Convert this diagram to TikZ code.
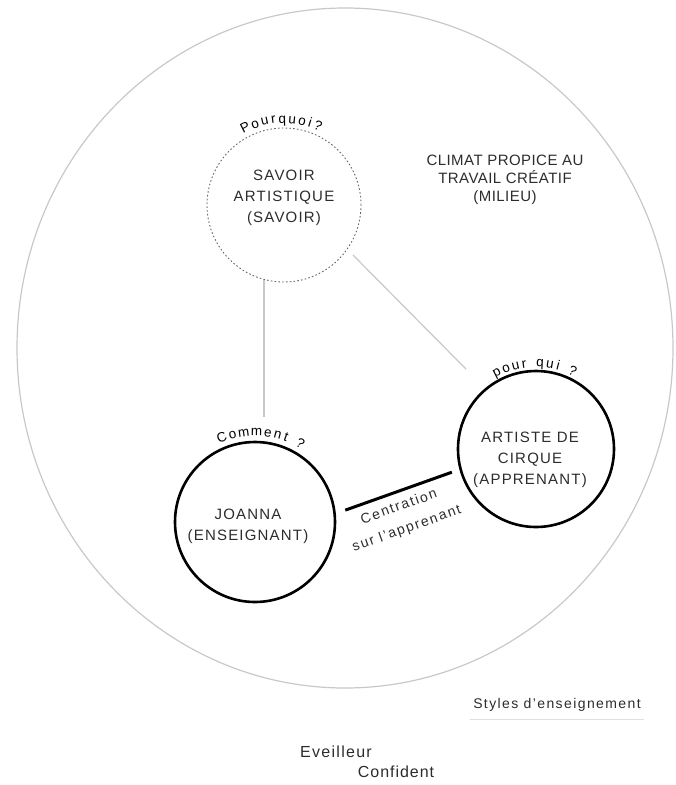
\documentclass[tikz,border=0pt]{standalone}
\usepackage{fontspec}
\setmainfont{Liberation Sans}
\usetikzlibrary{decorations.text}

\begin{document}
\begin{tikzpicture}[x=1pt,y=-1pt]
  \definecolor{myline}{HTML}{C8C8C8}
  \definecolor{myink}{HTML}{2C2C2C}
  \tikzstyle{pole}=[circle, draw=black, line width=2.6pt, minimum size=160pt, inner sep=0pt]
  \tikzstyle{caption}=[align=center, text=myink, font=\fontsize{15}{21}\selectfont\addfontfeature{LetterSpace=8}]
  \tikzstyle{link}=[draw=myline, line width=1.2pt]
  \tikzstyle{question}=[decorate, decoration={text effects along path, text align=center,
    text effects/.cd, text along path, character widths={inner xsep=2pt},
    characters={text=black, font=\fontsize{13.5}{13.5}\selectfont}}]

  \useasboundingbox (0,0) rectangle (676,785);
  \draw[myline, line width=1.2pt] (345,348) ellipse [x radius=328pt, y radius=340pt];

  \node[pole, draw=black!60, line width=0.9pt, dash pattern=on 1.6pt off 2.2pt, minimum size=154pt,
    label={[caption, yshift=7pt]center:{SAVOIR\\ARTISTIQUE\\(SAVOIR)}}](savoir) at (284,205) {};
  \node[pole, label={[caption, xshift=-7pt, yshift=-4pt]center:{JOANNA\\(ENSEIGNANT)}}](joanna) at (255,522) {};
  \node[pole, minimum size=156pt,
    label={[caption, xshift=-6pt, yshift=-11pt]center:{ARTISTE DE\\CIRQUE\\(APPRENANT)}}](artiste) at (536,449) {};

  \node[caption, font=\fontsize{15}{18}\selectfont\addfontfeature{LetterSpace=3}](climat) at (505,180) {CLIMAT PROPICE AU\\TRAVAIL CRÉATIF\\(MILIEU)};

  \path[question, decoration={text={Pourquoi?}}] (savoir.center) ++(150:82pt) arc[start angle=150, end angle=34, radius=82pt];
  \path[question, decoration={text={Comment ?}}] (joanna.center) ++(150:86pt) arc[start angle=150, end angle=22, radius=86pt];
  \path[question, decoration={text={pour qui ?}}] (artiste.center) ++(150:82pt) arc[start angle=150, end angle=32, radius=82pt];

  \draw[link, shorten >=24pt] (savoir.-105) -- (savoir.-105 |- joanna.north);
  \draw[link, shorten <=8pt, shorten >=27pt] (savoir.-35) -- (artiste.130);
  \draw[black, line width=3pt, shorten <=10pt, shorten >=8pt] (joanna.6) -- (artiste.195)
    node[pos=0.47, sloped, below=4pt, caption, font=\fontsize{14}{23}\selectfont\addfontfeature{LetterSpace=12}] {Centration\\sur l'apprenant};

  \node[caption, font=\fontsize{14}{16}\selectfont\addfontfeature{LetterSpace=10}](styles) at (557,705) {Styles d'enseignement};
  \draw[black!12, line width=1pt] ([yshift=-4pt]styles.south west) -- ([yshift=-4pt]styles.south east);

  \node[caption, font=\fontsize{16}{16}\selectfont\addfontfeature{LetterSpace=8}](eveilleur) at (336,752) {Eveilleur};
  \node[caption, font=\fontsize{16}{16}\selectfont\addfontfeature{LetterSpace=6}](confident) at (396,772) {Confident};
\end{tikzpicture}
\end{document}
